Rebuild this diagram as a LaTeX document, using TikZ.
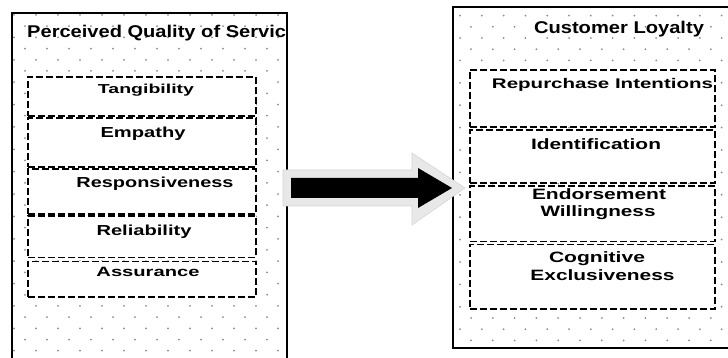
\documentclass[tikz,border=0pt]{standalone}
\usepackage{graphicx}
\usepackage{fontspec}
\setmainfont{Liberation Sans}
\usetikzlibrary{calc}
\newcommand{\tx}[3]{\resizebox{#1pt}{\height}{\fontsize{#2}{#2}\selectfont\bfseries #3}}
\tikzset{
  outerbox/.style={line width=1.6pt, draw=black},
  dbox/.style={draw=black, fill=white, line width=1.6pt, dash pattern=on 7pt off 3pt, inner sep=0pt, anchor=north west},
  lbl/.style={anchor=base, inner sep=0pt},
  dotc/.style={fill=black!45}
}
\begin{document}
\begin{tikzpicture}[x=1pt,y=-1pt]
\useasboundingbox (0,0) rectangle (728,358);
\fill[white] (0,0) rectangle (728,358);
% dots left
\begin{scope}
\clip (12,13) rectangle (287,358);
\foreach \k in {0,...,31}{
  \pgfmathsetmacro{\yy}{15+11.19*\k}
  \pgfmathsetmacro{\xo}{mod(\k,2)==0 ? 14 : 25}
  \foreach \i in {0,...,12}{
    \fill[dotc] ({\xo+22*\i},\yy) circle (1pt);
  }
}
\end{scope}
% dots right
\begin{scope}
\clip (453,7) rectangle (728,348);
\foreach \k in {0,...,29}{
  \pgfmathsetmacro{\yy}{15.6+11.2*\k}
  \pgfmathsetmacro{\xo}{mod(\k,2)==0 ? 460 : 471}
  \foreach \i in {0,...,12}{
    \fill[dotc] ({\xo+21.8*\i},\yy) circle (1pt);
  }
}
\end{scope}
% outer boxes
\draw[outerbox] (12,360) -- (12,13) -- (287,13) -- (287,360);
\draw[outerbox] (730,7) -- (453,7) -- (453,348) -- (730,348);
% titles
\begin{scope}
\clip (12,13) rectangle (287,358);
\node[anchor=base west, inner sep=0pt] (lt) at (27,37.7) {\tx{270}{17}{Perceived Quality of Service}};
\end{scope}
\node[lbl] (rt) at (619,33.5) {\tx{170}{17}{Customer Loyalty}};
% left inner boxes
\node[dbox, minimum width=228pt, minimum height=39.5pt] (b1) at (27,76) {};
\node[dbox, minimum width=228pt, minimum height=49pt] (b2) at (27,117.5) {};
\node[dbox, minimum width=228pt, minimum height=45pt] (b3) at (27,168.5) {};
\node[dbox, minimum width=228pt, minimum height=41pt] (b4) at (27,215.5) {};
\node[dbox, minimum width=228pt, minimum height=35.5pt] (b5) at (27,260.5) {};
\node[lbl] (t1) at (146,93.3) {\tx{96}{13}{Tangibility}};
\node[lbl] (t2) at (143,138) {\tx{85}{14.5}{Empathy}};
\node[lbl] (t3) at (155,187.5) {\tx{157}{14.5}{Responsiveness}};
\node[lbl] (t4) at (144,235) {\tx{95}{14.5}{Reliability}};
\node[lbl] (t5) at (148,276.7) {\tx{103}{13.5}{Assurance}};
% right inner boxes
\node[dbox, minimum width=245pt, minimum height=57.5pt] (c1) at (469,69) {};
\node[dbox, minimum width=245pt, minimum height=53pt] (c2) at (469,129.5) {};
\node[dbox, minimum width=245pt, minimum height=55pt] (c3) at (469,185.5) {};
\node[dbox, minimum width=245pt, minimum height=64.5pt] (c4) at (469,243.5) {};
\node[lbl] (s1) at (602.5,88.3) {\tx{221}{14}{Repurchase Intentions}};
\node[lbl] (s2) at (596,150) {\tx{130}{15}{Identification}};
\node[lbl] (s3a) at (599,199.5) {\tx{134}{15}{Endorsement}};
\node[lbl] (s3b) at (598,216) {\tx{115}{15}{Willingness}};
\node[lbl] (s4a) at (597,262.3) {\tx{96}{15}{Cognitive}};
\node[lbl] (s4b) at (602.5,280) {\tx{144}{15}{Exclusiveness}};
% arrow
\coordinate (as) at (291,188);
\coordinate (ae) at (452,188);
\fill[black!9, draw=black!16, line width=0.6pt] ($(as)+(-8,-18)$) -- ($(ae)+(-40,-18)$) -- ($(ae)+(-40,-35)$) -- ($(ae)+(13,0)$) -- ($(ae)+(-40,37)$) -- ($(ae)+(-40,18)$) -- ($(as)+(-8,18)$) -- cycle;
\fill[black] ($(as)+(0,-10)$) -- ($(ae)+(-34,-10)$) -- ($(ae)+(-34,-20)$) -- (ae) -- ($(ae)+(-34,20)$) -- ($(ae)+(-34,10)$) -- ($(as)+(0,10)$) -- cycle;
\end{tikzpicture}
\end{document}
